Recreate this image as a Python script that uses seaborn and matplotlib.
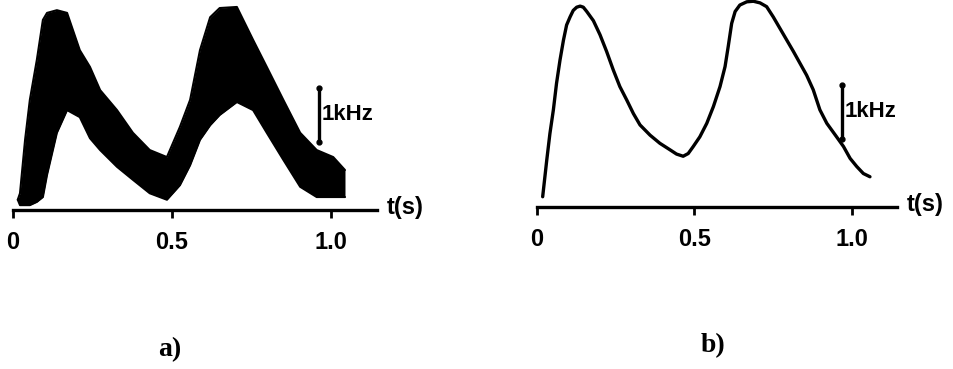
import numpy as np
import pandas as pd
import matplotlib
matplotlib.use("Agg")
import matplotlib.pyplot as plt
import seaborn as sns

# ---- data (time in s, frequency offset in kHz above the baseline) ----
band_t = [0.015, 0.022, 0.038, 0.053, 0.075, 0.094, 0.107, 0.138, 0.17, 0.21,
          0.242, 0.274, 0.327, 0.377, 0.43, 0.484, 0.525, 0.557, 0.588, 0.62,
          0.65, 0.704, 0.755, 0.798, 0.85, 0.903, 0.955, 1.007, 1.044]
band_upper = [0.19, 0.31, 1.30, 2.04, 2.78, 3.52, 3.65, 3.70, 3.65, 2.96,
              2.65, 2.22, 1.85, 1.43, 1.11, 0.98, 1.54, 2.04, 2.96, 3.57,
              3.74, 3.76, 3.15, 2.65, 2.04, 1.43, 1.11, 0.98, 0.74]
band_lower = [0.19, 0.09, 0.09, 0.09, 0.15, 0.24, 0.65, 1.43, 1.85, 1.72,
              1.33, 1.11, 0.80, 0.56, 0.31, 0.19, 0.46, 0.83, 1.30, 1.57,
              1.76, 2.00, 1.85, 1.43, 0.93, 0.43, 0.24, 0.24, 0.24]

curve_t = [0.018, 0.031, 0.041, 0.052, 0.062, 0.073, 0.084, 0.094, 0.105,
           0.115, 0.126, 0.137, 0.147, 0.158, 0.179, 0.200, 0.221, 0.242,
           0.263, 0.285, 0.306, 0.327, 0.359, 0.390, 0.422, 0.443, 0.464,
           0.480, 0.496, 0.517, 0.539, 0.560, 0.581, 0.597, 0.607, 0.618,
           0.629, 0.644, 0.666, 0.687, 0.708, 0.729, 0.750, 0.771, 0.793,
           0.814, 0.835, 0.856, 0.877, 0.898, 0.920, 0.951, 0.973, 0.994,
           1.015, 1.036, 1.057]
curve_f = [0.19, 0.87, 1.36, 1.80, 2.29, 2.72, 3.09, 3.37, 3.52,
           3.64, 3.70, 3.72, 3.70, 3.62, 3.45, 3.19, 2.88, 2.54,
           2.23, 1.98, 1.73, 1.52, 1.33, 1.18, 1.06, 0.98, 0.94,
           0.99, 1.12, 1.30, 1.55, 1.86, 2.23, 2.60, 2.97, 3.40,
           3.62, 3.74, 3.80, 3.81, 3.78, 3.71, 3.52, 3.31, 3.09,
           2.88, 2.66, 2.44, 2.17, 1.80, 1.55, 1.30, 1.12, 0.90,
           0.75, 0.62, 0.56]

tick_values = [0, 0.5, 1.0]
tick_labels = ["0", "0.5", "1.0"]
axis_label = "t(s)"
scale_label = "1kHz"
panel_labels = ["a)", "b)"]

sns.set_theme(style="white")
plt.rcParams['font.family'] = ['Liberation Sans', 'DejaVu Sans']
plt.rcParams['text.color'] = 'black'
plt.rcParams['xtick.color'] = 'black'
plt.rcParams['xtick.labelcolor'] = 'black'

W, H = 954, 369
fig = plt.figure(figsize=(W / 100, H / 100), dpi=100)
fig.patch.set_facecolor("white")


def make_axes(left_px, right_px, t0_px, px_per_s, axis_px):
    bottom_px = 262
    ax = fig.add_axes([left_px / W, 1 - bottom_px / H,
                       (right_px - left_px) / W, bottom_px / H])
    ax.set_xlim((left_px - t0_px) / px_per_s, (right_px - t0_px) / px_per_s)
    ax.set_ylim((axis_px - bottom_px) / 54.0, axis_px / 54.0)
    ax.set_facecolor("none")
    for s in ["top", "right", "left"]:
        ax.spines[s].set_visible(False)
    return ax


def style_axis(ax, t_end, label_x):
    sp = ax.spines["bottom"]
    sp.set_visible(True)
    sp.set_position(("data", 0))
    sp.set_bounds(0, t_end)
    sp.set_linewidth(2.4)
    sp.set_color("black")
    ax.set_xticks(tick_values)
    ax.set_xticklabels(tick_labels, fontsize=17, fontweight="bold",
                       color="black")
    ax.tick_params(axis="x", direction="out", length=6, width=2,
                   color="black", pad=9, bottom=True)
    ax.set_yticks([])
    ax.set_xlabel("")
    ax.set_ylabel("")
    ax.text(label_x, 0.05, axis_label, fontsize=17, fontweight="bold",
            ha="left", va="center", color="black")


def scale_bar(ax, t, lo, hi):
    ax.plot([t, t], [lo, hi], color="black", lw=2.4, solid_capstyle="butt")
    ax.plot([t, t], [lo, hi], color="black", lw=0, marker="o", ms=3.5)
    ax.text(t + 0.008, (lo + hi) / 2, scale_label, fontsize=16,
            fontweight="bold", ha="left", va="center", color="black")


# ---- panel a ----
axa = make_axes(0, 400, 13, 318.0, 210)
df_a = pd.DataFrame({"t": band_t, "upper": band_upper, "lower": band_lower})
axa.fill_between(df_a["t"], df_a["lower"], df_a["upper"], color="black",
                 lw=0)
sns.lineplot(data=df_a, x="t", y="upper", ax=axa, color="black", lw=1.5)
sns.lineplot(data=df_a, x="t", y="lower", ax=axa, color="black", lw=1.5)
style_axis(axa, (377 - 13) / 318.0, (387 - 13) / 318.0)
scale_bar(axa, 0.962, 1.26, 2.26)

# ---- panel b ----
axb = make_axes(520, 954, 537, 315.0, 207)
df_b = pd.DataFrame({"t": curve_t, "f": curve_f})
sns.lineplot(data=df_b, x="t", y="f", ax=axb, color="black", lw=2.4,
             sort=False)
style_axis(axb, (897 - 537) / 315.0, (907 - 537) / 315.0)
scale_bar(axb, 0.968, 1.26, 2.26)

# ---- panel captions ----
fig.text(170 / W, 1 - 350 / H, panel_labels[0], fontsize=20,
         fontweight="bold", family=["Liberation Serif", "DejaVu Serif"],
         ha="center", va="center", color="black")
fig.text(713 / W, 1 - 346 / H, panel_labels[1], fontsize=20,
         fontweight="bold", family=["Liberation Serif", "DejaVu Serif"],
         ha="center", va="center", color="black")

fig.savefig("out.png", dpi=100, facecolor="white")
